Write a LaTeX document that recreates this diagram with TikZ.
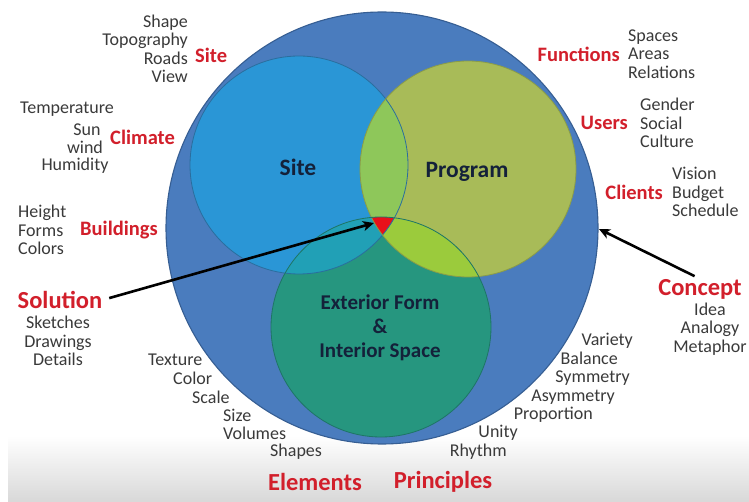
\documentclass[tikz,border=0pt]{standalone}
\usepackage{fontspec}
\setmainfont{Carlito}
\usetikzlibrary{arrows.meta}

\definecolor{outerblue}{HTML}{4A7CBE}
\definecolor{outeredge}{HTML}{365E93}
\definecolor{siteblue}{HTML}{2A96D6}
\definecolor{siteedge}{HTML}{2A6E9E}
\definecolor{proggreen}{HTML}{A8BB58}
\definecolor{progedge}{HTML}{8A9C48}
\definecolor{formteal}{HTML}{26967F}
\definecolor{formedge}{HTML}{1E7566}
\definecolor{lensgreen}{HTML}{8EC75A}
\definecolor{lenscyan}{HTML}{21A0B6}
\definecolor{lenslime}{HTML}{9BCB3C}
\definecolor{corered}{HTML}{E8101A}
\definecolor{itemgray}{HTML}{3A3A3A}
\definecolor{headred}{HTML}{D21F2B}
\definecolor{labeldark}{HTML}{14213A}
\definecolor{bandgray}{HTML}{D8D8D8}

\tikzset{
  item/.style={font=\fontsize{18}{18.5}\selectfont, text=itemgray, inner sep=0pt},
  head/.style={font=\fontsize{20.5}{22}\selectfont\bfseries, text=headred, inner sep=0pt},
  bighead/.style={font=\fontsize{24.5}{26}\selectfont\bfseries, text=headred, inner sep=0pt},
  setlabel/.style={font=\fontsize{23.5}{25}\selectfont\bfseries, text=labeldark, inner sep=0pt},
  formlabel/.style={font=\fontsize{21}{25}\selectfont\bfseries, text=labeldark, inner sep=0pt, align=center},
  pointer/.style={line width=2.6pt, black, -{Stealth[length=11pt,width=10pt,inset=3pt]}},
}

\begin{document}
\begin{tikzpicture}[x=1pt,y=-1pt]
  % canvas and the soft grey band along the bottom
  \fill[white] (0,0) rectangle (749,502);
  \useasboundingbox (0,0) rectangle (749,502);
  \shade[top color=white, bottom color=bandgray] (8,436) rectangle (749,502);

  % circle outlines
  \def\outerpath{(382,228) circle[radius=216pt]}
  \def\sitepath{(299,165) circle[radius=109pt]}
  \def\progpath{(468,169) circle[radius=108pt]}
  \def\formpath{(381,327) circle[radius=110pt]}

  % fills
  \fill[outerblue] \outerpath;
  \fill[siteblue] \sitepath;
  \fill[proggreen] \progpath;
  \fill[formteal] \formpath;

  % overlaps
  \begin{scope}
    \clip \sitepath;
    \fill[lensgreen] \progpath;
    \fill[lenscyan] \formpath;
  \end{scope}
  \begin{scope}
    \clip \progpath;
    \fill[lenslime] \formpath;
  \end{scope}
  \begin{scope}
    \clip \sitepath;
    \clip \progpath;
    \fill[corered] \formpath;
  \end{scope}

  % edges
  \draw[outeredge, line width=1.1pt] \outerpath;
  \draw[siteedge, line width=0.8pt] \sitepath;
  \draw[progedge, line width=0.8pt] \progpath;
  \draw[formedge, line width=0.8pt] \formpath;

  % set labels
  \node[setlabel] (sitelbl) at (298,167) {Site};
  \node[setlabel] (proglbl) at (467,172) {Program};
  \node[formlabel] (formlbl) at (380,328) {Exterior Form\\[-1pt]\&\\[-1pt]Interior Space};

  % Site
  \node[item, align=right, anchor=east] (sitelist) at (188,49) {Shape\\Topography\\Roads\\View};
  \node[head, anchor=west] (sitehead) at (195,55) {Site};

  % Climate
  \node[item] (temp) at (67,109) {Temperature};
  \node[item] (sun) at (87,130) {Sun};
  \node[item] (wind) at (85,147) {wind};
  \node[item] (humid) at (75,166) {Humidity};
  \node[head, anchor=west] (climate) at (110,137) {Climate};

  % Buildings
  \node[item, align=left, anchor=west] (bldlist) at (18,230) {Height\\Forms\\Colors};
  \node[head, anchor=west] (buildings) at (80,230) {Buildings};

  % Functions
  \node[head, anchor=east] (functions) at (620,54) {Functions};
  \node[item, align=left, anchor=west] (funclist) at (628,54) {Spaces\\Areas\\Relations};

  % Users
  \node[head, anchor=east] (users) at (628,123) {Users};
  \node[item, align=left, anchor=west] (userlist) at (640,123) {Gender\\Social\\Culture};

  % Clients
  \node[head, anchor=east] (clients) at (663,192) {Clients};
  \node[item, align=left, anchor=west] (clientlist) at (672,192) {Vision\\Budget\\Schedule};

  % Solution
  \node[bighead] (solution) at (60,300) {Solution};
  \node[item, align=center] (sollist) at (58,341) {Sketches\\Drawings\\Details};

  % Concept
  \node[bighead] (concept) at (700,289) {Concept};
  \node[item, align=center] (conclist) at (710,329) {Idea\\Analogy\\Metaphor};

  % Elements
  \node[item, anchor=west] (texture) at (148,360) {Texture};
  \node[item, anchor=west] (color) at (173,378) {Color};
  \node[item, anchor=west] (scale) at (192,397) {Scale};
  \node[item, anchor=west] (size) at (223,415) {Size};
  \node[item, anchor=west] (volumes) at (223,433) {Volumes};
  \node[item, anchor=west] (shapes) at (270,452) {Shapes};
  \node[bighead] (elements) at (315,482) {Elements};

  % Principles
  \node[item, anchor=east] (variety) at (633,341) {Variety};
  \node[item, anchor=east] (balance) at (618,358.5) {Balance};
  \node[item, anchor=east] (symmetry) at (630,378) {Symmetry};
  \node[item, anchor=east] (asymmetry) at (615,397) {Asymmetry};
  \node[item, anchor=east] (proportion) at (593,415) {Proportion};
  \node[item, anchor=east] (unity) at (518,433) {Unity};
  \node[item, anchor=east] (rhythm) at (507,452) {Rhythm};
  \node[bighead] (principles) at (443,482) {Principles};

  % pointers
  \coordinate (core) at (374,223);
  \coordinate (rim) at (599,229);
  \draw[pointer, shorten <=7pt] (solution.east) -- (core);
  \draw[pointer, shorten <=6pt] (concept.north) -- (rim);
\end{tikzpicture}
\end{document}
